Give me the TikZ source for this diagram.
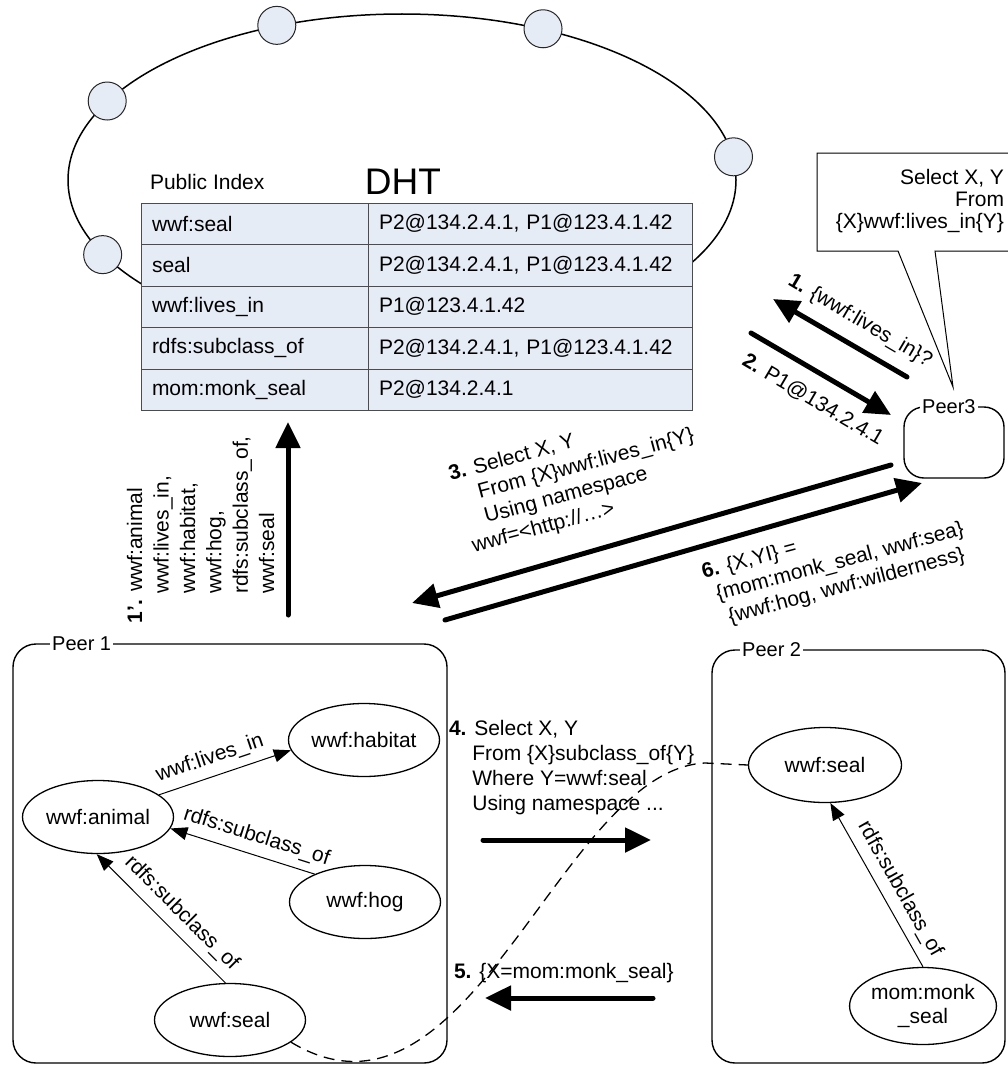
\documentclass[tikz,border=0pt]{standalone}
\usepackage{fontspec}
\setmainfont{Liberation Sans}
\usetikzlibrary{arrows.meta,shapes.geometric}
\definecolor{dhtfill}{RGB}{230,236,246}
\newcommand{\fsA}{\fontsize{21}{25}\selectfont}
\newcommand{\fsP}{\fontsize{20}{24}\selectfont}
\begin{document}
\begin{tikzpicture}[x=1pt,y=-1pt,
  txt/.style={font=\fsA, inner sep=0pt, outer sep=0pt},
  ringdot/.style={circle, draw=black!85, line width=1pt, fill=dhtfill, minimum size=38pt, inner sep=0pt},
  cellA/.style={draw=black!70, line width=1pt, fill=dhtfill, anchor=north west, outer sep=0pt, inner xsep=11pt, inner ysep=0pt, minimum height=41.5pt, text width=205pt, align=left, font=\fsA},
  cellB/.style={cellA, text width=302pt},
  ont/.style={ellipse, draw, line width=1.3pt, fill=white, minimum width=151pt, minimum height=73pt, inner sep=0pt, font=\fsA},
  peerbox/.style={draw, line width=1.4pt, rounded corners=23pt, inner sep=0pt},
  plbl/.style={font=\fsP, fill=white, inner xsep=2pt, inner ysep=0pt},
  thickarr/.style={line width=5pt, line cap=round, -{Triangle[length=26pt,width=24pt]}},
  thinarr/.style={line width=1pt, -{Triangle[length=17pt,width=13pt]}},
  thinarrb/.style={line width=1pt, {Triangle[length=17pt,width=13pt]}-},
  elbl/.style={font=\fsA, inner sep=0pt},
  dashline/.style={line width=1.3pt, dash pattern=on 11pt off 7pt}
]
\useasboundingbox (0,0) rectangle (1007,1065);
\fill[white] (0,0) rectangle (1007,1065);

% DHT ring
\node[draw, ellipse, line width=1.5pt, minimum width=668pt, minimum height=332pt, inner sep=0pt] (ring) at (402,180) {};
\node[ringdot] (d1) at (ring.165) {};
\node[ringdot] (d2) at (ring.129) {};
\node[ringdot] (d3) at (ring.47) {};
\node[ringdot] (d4) at (ring.4) {};
\node[ringdot] (d5) at (ring.194) {};

% Public index table
\node[txt, anchor=west] (pubidx) at (150,182) {Public Index};
\node[font=\fontsize{37}{40}\selectfont, inner sep=0pt] (dht) at (403,182) {DHT};
\node[cellA] (k1) at (141,203) {wwf:seal};
\node[cellB] (v1) at (368,203) {P2@134.2.4.1, P1@123.4.1.42};
\node[cellA] (k2) at (141,244.5) {seal};
\node[cellB] (v2) at (368,244.5) {P2@134.2.4.1, P1@123.4.1.42};
\node[cellA] (k3) at (141,286) {wwf:lives\_in};
\node[cellB] (v3) at (368,286) {P1@123.4.1.42};
\node[cellA] (k4) at (141,327.5) {rdfs:subclass\_of};
\node[cellB] (v4) at (368,327.5) {P2@134.2.4.1, P1@123.4.1.42};
\node[cellA] (k5) at (141,369) {mom:monk\_seal};
\node[cellB] (v5) at (368,369) {P2@134.2.4.1};

% Callout
\coordinate (ctip) at (953,387);
\draw[line width=1pt, fill=white] (817,153) -- (1015,153) -- (1015,251) -- (935,251) -- (ctip) -- (898,251) -- (817,251) -- cycle;
\node[txt, anchor=north east, align=right, font=\fontsize{21}{22}\selectfont] (ctext) at (1004,169) {Select X, Y\\From\\\{X\}wwf:lives\_in\{Y\}};

% Peer3
\node[peerbox, rounded corners=20pt, minimum width=100pt, minimum height=71pt] (peer3) at (954,442.5) {};
\node[plbl, anchor=west] (peer3lbl) at (920,407) {Peer3};

% Messages with Peer3
\coordinate (a1s) at (907,377); \coordinate (a1e) at (773,299);
\coordinate (a2s) at (751,333); \coordinate (a2e) at (891,415);
\coordinate (a3s) at (891,465); \coordinate (a3e) at (412,603);
\coordinate (a6s) at (445,620); \coordinate (a6e) at (922,483);
\draw[thickarr] (a1s) -- (a1e);
\draw[thickarr] (a2s) -- (a2e);
\draw[thickarr] (a3s) -- (a3e);
\draw[thickarr] (a6s) -- (a6e);
\node[txt, rotate=-30.5] (l1) at (860,321) {\textbf{1.} \{wwf:lives\_in\}?};
\node[txt, rotate=-30.5] (l2) at (813,400) {\textbf{2.} P1@134.2.4.1};
\node[txt, rotate=15, anchor=north west, align=left] (l3) at (447,466)
  {\textbf{3.} Select X, Y\\\phantom{\textbf{3.}} From \{X\}wwf:lives\_in\{Y\}\\\phantom{\textbf{3.}} Using namespace\\\hspace*{4pt}wwf=<http://…>};
\node[txt, rotate=15, anchor=north west, align=left] (l6) at (700,564)
  {\textbf{6.} \{X,YI\} =\\\hspace*{8pt}\{mom:monk\_seal, wwf:sea\}\\\hspace*{14pt}\{wwf:hog, wwf:wilderness\}};

% Publishing arrow 1'
\coordinate (p1s) at (288,615); \coordinate (p1e) at (288,422);
\draw[thickarr] (p1s) -- (p1e);
\node[txt, rotate=90, anchor=north west, align=left, font=\fontsize{21}{26.4}\selectfont] (l1p) at (127,623)
  {\textbf{1'.} wwf:animal\\\phantom{\textbf{1'.}} wwf:lives\_in,\\\phantom{\textbf{1'.}} wwf:habitat,\\\phantom{\textbf{1'.}} wwf:hog,\\\phantom{\textbf{1'.}} rdfs:subclass\_of,\\\phantom{\textbf{1'.}} wwf:seal};

% Peer 1
\node[peerbox, minimum width=434pt, minimum height=419pt] (peer1) at (230,853.5) {};
\node[plbl, anchor=west] (peer1lbl) at (50,644) {Peer 1};
\node[ont] (animal) at (98,817) {wwf:animal};
\node[ont] (habitat) at (364,740) {wwf:habitat};
\node[ont] (hog) at (365,902) {wwf:hog};
\node[ont] (p1seal) at (230,1020) {wwf:seal};
\draw[thinarr] (animal.20) -- node[elbl, pos=.43, sloped, above=8pt] {wwf:lives\_in} (habitat.188);
\draw[thinarrb] (animal.-9) -- node[elbl, pos=.56, sloped, above=8pt] {rdfs:subclass\_of} (hog.151);
\draw[thinarrb] (animal.-92) -- node[elbl, pos=.56, sloped, above=8pt] {rdfs:subclass\_of} (p1seal.97);

% Peer 2
\node[peerbox, minimum width=293pt, minimum height=413pt] (peer2) at (858.5,856.5) {};
\node[plbl, anchor=west] (peer2lbl) at (740,650) {Peer 2};
\node[ont, minimum width=153pt, minimum height=75pt] (p2seal) at (825,765) {wwf:seal};
\node[ont, minimum width=139pt, minimum height=77pt, align=center, font=\fontsize{21}{24}\selectfont] (monk) at (923,1006) {mom:monk\\\_seal};
\draw[thinarrb] (p2seal.-82) -- node[elbl, pos=.58, sloped, above=8pt] {rdfs:subclass\_of} (monk.90);

% Query between peers
\node[txt, anchor=north west, align=left] (l4) at (449,720)
  {\textbf{4.} Select X, Y\\\phantom{\textbf{4.}} From \{X\}subclass\_of\{Y\}\\\phantom{\textbf{4.}} Where Y=wwf:seal\\\phantom{\textbf{4.}} Using namespace ...};
\coordinate (a4s) at (483,840); \coordinate (a4e) at (651,840);
\draw[thickarr] (a4s) -- (a4e);
\node[txt, anchor=west] (l5) at (454,973) {\textbf{5.} \{X=mom:monk\_seal\}};
\coordinate (a5s) at (653,998); \coordinate (a5e) at (485,998);
\draw[thickarr] (a5s) -- (a5e);

% Mapping between seals
\draw[dashline] (p1seal.-20) .. controls (470,1150) and (560,770) .. (705,763) -- (p2seal.west);
\end{tikzpicture}
\end{document}
